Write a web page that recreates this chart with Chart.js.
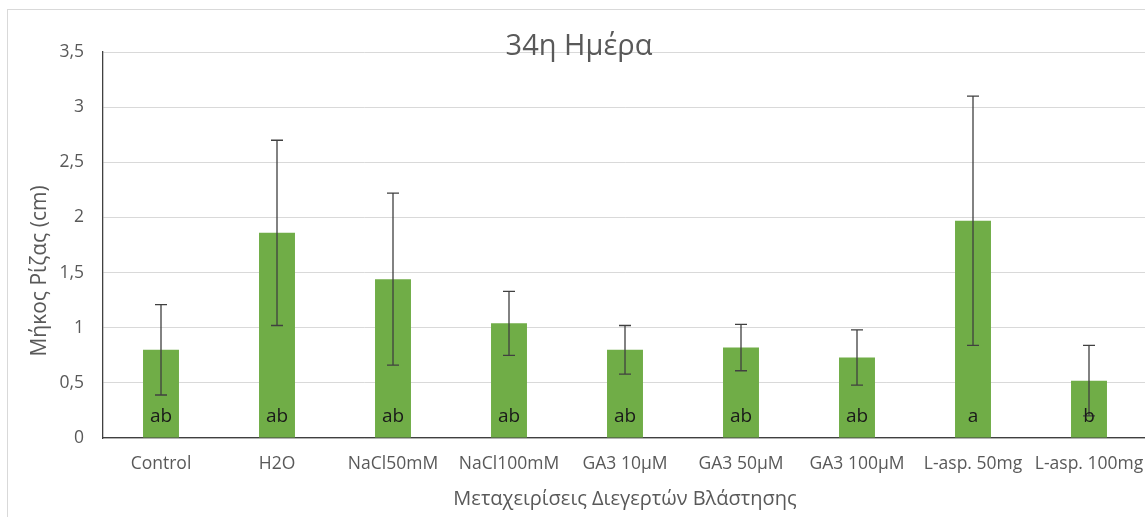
<!DOCTYPE html>
<html>
<head>
<meta charset="utf-8">
<script src="https://cdn.jsdelivr.net/npm/chart.js@4.4.0/dist/chart.umd.min.js"></script>
<style>
html, body { margin: 0; padding: 0; background: #fff; overflow: hidden; }
#frame { position: absolute; left: 7px; top: 9px; width: 1200px; height: 600px; border-left: 1px solid #d9d9d9; border-top: 1px solid #d9d9d9; }
#wrap { position: absolute; left: 0; top: 0; width: 1160px; height: 517px; }
</style>
</head>
<body>
<div id="frame"></div>
<div id="wrap"><canvas id="chart"></canvas></div>
<script>
const categories = ['Control', 'H2O', 'NaCl50mM', 'NaCl100mM', 'GA3 10μM', 'GA3 50μM', 'GA3 100μM', 'L-asp. 50mg', 'L-asp. 100mg'];
const means = [0.80, 1.86, 1.44, 1.04, 0.80, 0.82, 0.73, 1.97, 0.52];
const errors = [0.41, 0.84, 0.78, 0.29, 0.22, 0.21, 0.25, 1.13, 0.32];
const letters = ['ab', 'ab', 'ab', 'ab', 'ab', 'ab', 'ab', 'a', 'b'];
const yTickLabels = ['0', '0,5', '1', '1,5', '2', '2,5', '3', '3,5'];

const FONT = "'Open Sans', 'Noto Sans', sans-serif";
const GREY = '#595959';

// error bars, group letters, chart title and y title
const extras = {
    id: 'extras',
    afterDatasetsDraw(chart) {
        const ctx = chart.ctx;
        const x = chart.scales.x;
        const y = chart.scales.y;
        ctx.save();
        ctx.strokeStyle = '#404040';
        ctx.lineWidth = 1.3;
        means.forEach((m, i) => {
            const cx = x.getPixelForValue(i);
            const top = y.getPixelForValue(m + errors[i]);
            const bot = y.getPixelForValue(m - errors[i]);
            ctx.beginPath();
            ctx.moveTo(cx, top); ctx.lineTo(cx, bot);
            ctx.moveTo(cx - 6, top); ctx.lineTo(cx + 6, top);
            ctx.moveTo(cx - 6, bot); ctx.lineTo(cx + 6, bot);
            ctx.stroke();
        });
        ctx.fillStyle = '#1a1a1a';
        ctx.font = '19px ' + FONT;
        ctx.textAlign = 'center';
        ctx.textBaseline = 'middle';
        letters.forEach((l, i) => {
            ctx.fillText(l, x.getPixelForValue(i), y.getPixelForValue(0) - 21);
        });
        ctx.fillStyle = GREY;
        ctx.font = '29px ' + FONT;
        ctx.fillText('34η Ημέρα', 579, 47);
        ctx.translate(40, 271);
        ctx.rotate(-Math.PI / 2);
        ctx.font = '21px ' + FONT;
        ctx.fillText('Μήκος Ρίζας (cm)', 0, 0);
        ctx.restore();
    }
};

new Chart(document.getElementById('chart'), {
    type: 'bar',
    data: {
        labels: categories,
        datasets: [{
            data: means,
            backgroundColor: '#70ad47',
            barPercentage: 0.31,
            categoryPercentage: 1
        }]
    },
    options: {
        responsive: true,
        maintainAspectRatio: false,
        animation: false,
        layout: { padding: { top: 52, right: 13, left: 0, bottom: 0 } },
        plugins: { legend: { display: false }, tooltip: { enabled: false } },
        scales: {
            x: {
                grid: { display: false, drawTicks: false },
                border: { color: '#404040', width: 1.3 },
                ticks: { color: GREY, font: { family: FONT, size: 17.5 }, padding: 16, maxRotation: 0, autoSkip: false },
                title: { display: true, text: 'Μεταχειρίσεις Διεγερτών Βλάστησης', color: GREY, font: { family: FONT, size: 20 }, padding: { top: 6, bottom: 6 } },
                afterFit(scale) { scale.height = 79; }
            },
            y: {
                min: 0,
                max: 3.5,
                ticks: { stepSize: 0.5, color: GREY, font: { family: FONT, size: 17.5 }, padding: 19, callback: (v, i) => yTickLabels[i] },
                grid: { color: '#d9d9d9', drawTicks: false },
                border: { color: '#404040', width: 1.3 },
                afterFit(scale) { scale.width = 103; }
            }
        }
    },
    plugins: [extras]
});
</script>
</body>
</html>
